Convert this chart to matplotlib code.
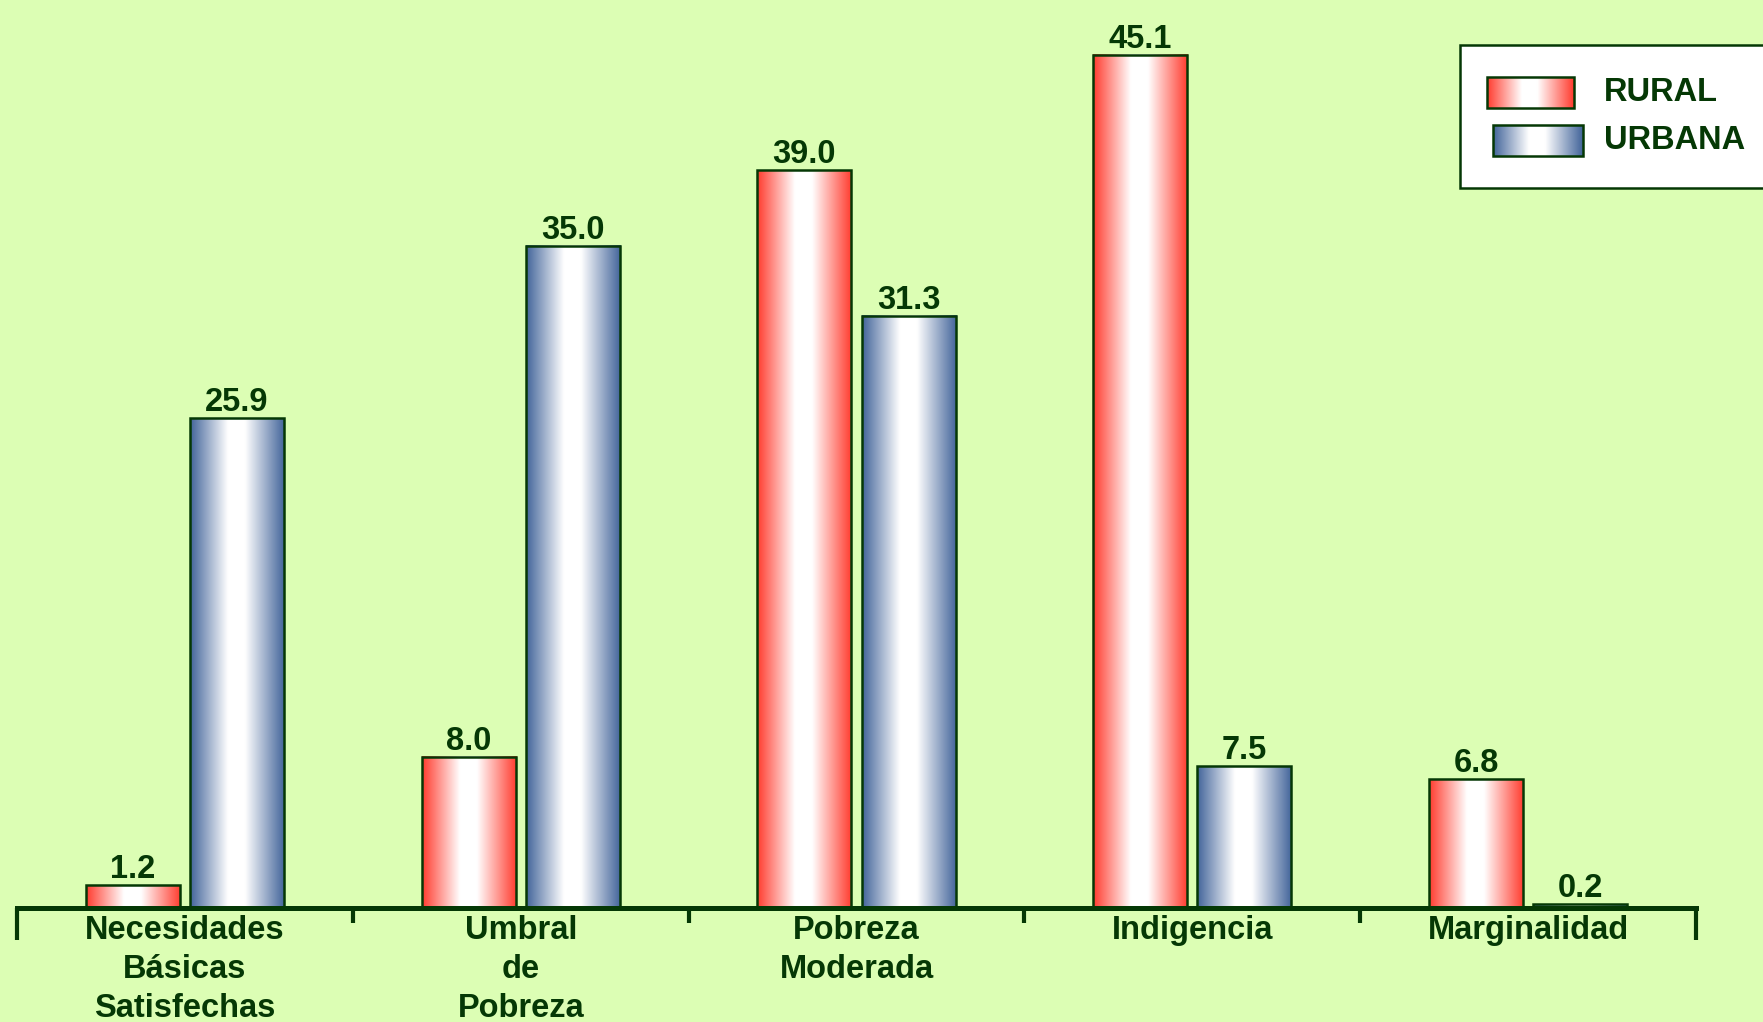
import numpy as np
import matplotlib.pyplot as plt
from matplotlib.colors import LinearSegmentedColormap
from matplotlib.transforms import blended_transform_factory

# ==================== data ====================
categories = ['Necesidades\nBásicas\nSatisfechas', 'Umbral\nde\nPobreza',
              'Pobreza\nModerada', 'Indigencia', 'Marginalidad']
rural = [1.2, 8.0, 39.0, 45.1, 6.8]
urbana = [25.9, 35.0, 31.3, 7.5, 0.2]
series_names = ['RURAL', 'URBANA']

# ==================== style ====================
BG = '#DCFEB4'
DARK = '#053805'
RED = '#FF3B2E'
BLUE = '#42649A'
FS = 23.5
plt.rcParams['font.family'] = ['Liberation Sans', 'DejaVu Sans']
plt.rcParams['font.weight'] = 'bold'

W, H = 1763, 1022
fig = plt.figure(figsize=(W / 100, H / 100), dpi=100, facecolor=BG)
ax = fig.add_axes([17 / W, 1 - 908 / H, (1696 - 17) / W, 908 / H])
ax.set_facecolor(BG)


def grad_cmap(edge):
    return LinearSegmentedColormap.from_list(
        'g', [(0, edge), (0.40, 'white'), (0.58, 'white'), (1, edge)])


grad = np.linspace(0, 1, 256).reshape(1, -1)
cmaps = [grad_cmap(RED), grad_cmap(BLUE)]

x = np.arange(len(categories))
bw = 0.28
offs = [-0.155, 0.155]
for vals, off, cm in zip([rural, urbana], offs, cmaps):
    bars = ax.bar(x + off, vals, bw, facecolor='none', edgecolor=DARK,
                  linewidth=1.8, zorder=3)
    for b, v in zip(bars, vals):
        x0 = b.get_x()
        ax.imshow(grad, extent=[x0, x0 + bw, 0, v], aspect='auto',
                  cmap=cm, zorder=2, interpolation='bilinear')
        ax.annotate(f'{v:.1f}', (x0 + bw / 2, v), xytext=(0, 0),
                    textcoords='offset points', ha='center', va='bottom',
                    fontsize=FS, fontweight='bold', color=DARK)

ax.set_xlim(-0.5, len(categories) - 0.5)
ax.set_ylim(0, 48)
for s in ['left', 'right', 'top']:
    ax.spines[s].set_visible(False)
ax.spines['bottom'].set_color(DARK)
ax.spines['bottom'].set_linewidth(3.6)
ax.set_yticks([])

ax.set_xticks(x, categories)
ax.tick_params(axis='x', which='major', length=0, pad=5, labelsize=FS,
               labelcolor=DARK)
for lab in ax.get_xticklabels():
    lab.set_fontweight('bold')
    lab.set_linespacing(1.33)
ax.set_xticks(np.arange(0.5, len(categories) - 1, 1.0), minor=True)
ax.tick_params(axis='x', which='minor', length=11, width=3, color=DARK,
               direction='out')

# longer ticks at both ends of the axis
tr = blended_transform_factory(ax.transData, ax.transAxes)
for xe in [-0.5, len(categories) - 0.5]:
    ax.plot([xe, xe], [0, -32 / 908], transform=tr, color=DARK, lw=3,
            clip_on=False, solid_capstyle='butt')

# ==================== legend (pixel coords overlay) ====================
lg = fig.add_axes([0, 0, 1, 1], zorder=5)
lg.set_xlim(0, W)
lg.set_ylim(H, 0)
lg.axis('off')
lg.add_patch(plt.Rectangle((1460, 45), 400, 143, facecolor='white',
                           edgecolor=DARK, linewidth=1.8))
patch_boxes = [(1487, 77, 87, 31), (1493, 125, 90, 31)]
for (px, py, pw, ph), cm, name in zip(patch_boxes, cmaps, series_names):
    lg.imshow(grad, extent=[px, px + pw, py + ph, py], aspect='auto', cmap=cm,
              zorder=6)
    lg.add_patch(plt.Rectangle((px, py), pw, ph, facecolor='none',
                               edgecolor=DARK, linewidth=1.8, zorder=7))
    lg.text(1604, py + ph / 2, name, fontsize=FS, fontweight='bold',
            color=DARK, va='center', ha='left', zorder=7)
lg.set_xlim(0, W)
lg.set_ylim(H, 0)

fig.savefig('out.png', dpi=100, facecolor=BG)
